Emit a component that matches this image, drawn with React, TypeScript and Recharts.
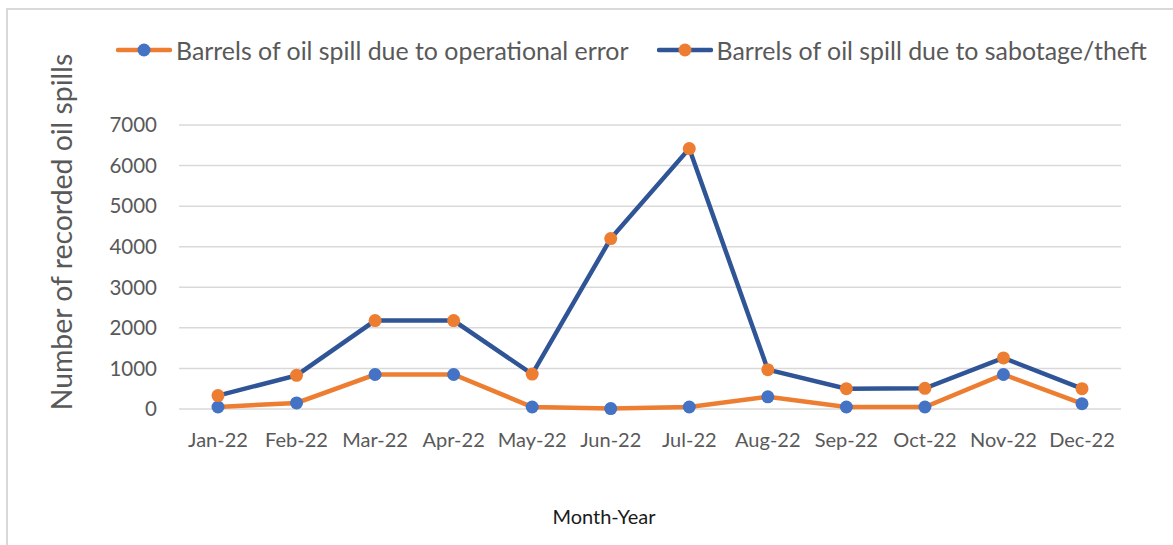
import React from 'react';
import { LineChart, Line, XAxis, YAxis, CartesianGrid, Label } from 'recharts';

const months = ['Jan-22', 'Feb-22', 'Mar-22', 'Apr-22', 'May-22', 'Jun-22', 'Jul-22', 'Aug-22', 'Sep-22', 'Oct-22', 'Nov-22', 'Dec-22'];
const operationalError = [50, 150, 850, 850, 50, 10, 50, 300, 50, 50, 850, 130];
const sabotageTheft = [330, 830, 2180, 2180, 860, 4200, 6420, 970, 500, 510, 1260, 500];
const yTicks = [0, 1000, 2000, 3000, 4000, 5000, 6000, 7000];

const series = [
    { key: 'operational', name: 'Barrels of oil spill due to operational error', line: '#ED7D31', dot: '#4472C4' },
    { key: 'sabotage', name: 'Barrels of oil spill due to sabotage/theft', line: '#2F5597', dot: '#ED7D31' },
];

const data = months.map((m, i) => ({ month: m, operational: operationalError[i], sabotage: sabotageTheft[i] }));

const FONT = 'Lato, "Open Sans", sans-serif';
const TEXT = '#595959';

function LegendBar() {
    return (
        <div style={{ position: 'absolute', left: 116, top: 35, display: 'flex', alignItems: 'center', fontFamily: FONT, fontSize: 24.9, color: TEXT, whiteSpace: 'nowrap' }}>
            {series.map((s, i) => (
                <div key={s.key} style={{ display: 'flex', alignItems: 'center', marginRight: i === 0 ? 28 : 0 }}>
                    <svg width={56} height={16} style={{ marginRight: 4 }}>
                        <line x1={2} y1={8} x2={54} y2={8} stroke={s.line} strokeWidth={4.5} strokeLinecap="round" />
                        <circle cx={28} cy={8} r={6.5} fill={s.dot} />
                    </svg>
                    <span>{s.name}</span>
                </div>
            ))}
        </div>
    );
}

export default function App() {
    return (
        <div style={{ position: 'absolute', left: 0, top: 0, width: 1173, height: 545, overflow: 'hidden', background: '#fff' }}>
            <div style={{ position: 'absolute', left: 6, top: 8, width: 1200, height: 600, border: '2px solid #D9D9D9' }} />
            <div style={{ position: 'absolute', left: 0, top: 0 }}>
                <LineChart width={1173} height={545} data={data} margin={{ top: 125, right: 52, left: 100, bottom: 106 }}>
                    <CartesianGrid vertical={false} stroke="#D9D9D9" strokeWidth={1.5} />
                    <XAxis
                        dataKey="month"
                        axisLine={false}
                        tickLine={false}
                        tickSize={0}
                        tickMargin={24}
                        height={30}
                        padding={{ left: 39, right: 39 }}
                        interval={0}
                        tick={{ fill: TEXT, fontSize: 20, fontFamily: FONT }}
                    >
                        <Label
                            content={(props: any) => {
                                const vb = props.viewBox;
                                return (
                                    <text x={604} y={vb.y + 115} textAnchor="middle" fill="#1a1a1a" fontSize={20} fontFamily={FONT}>
                                        Month-Year
                                    </text>
                                );
                            }}
                        />
                    </XAxis>
                    <YAxis
                        domain={[0, 7000]}
                        ticks={yTicks}
                        axisLine={false}
                        tickLine={false}
                        tickSize={0}
                        tickMargin={22}
                        width={79}
                        tick={{ fill: TEXT, fontSize: 20.5, fontFamily: FONT }}
                    >
                        <Label
                            content={() => (
                                <text x={0} y={0} transform="translate(72 232) rotate(-90)" textAnchor="middle" fill={TEXT} fontSize={28.4} fontFamily={FONT}>
                                    Number of recorded oil spills
                                </text>
                            )}
                        />
                    </YAxis>
                    {series.map(s => (
                        <Line
                            key={s.key}
                            type="linear"
                            dataKey={s.key}
                            name={s.name}
                            stroke={s.line}
                            strokeWidth={4.5}
                            dot={{ r: 6.5, fill: s.dot, stroke: s.dot, strokeWidth: 0 }}
                            activeDot={false}
                            isAnimationActive={false}
                        />
                    ))}
                </LineChart>
            </div>
            <LegendBar />
        </div>
    );
}
